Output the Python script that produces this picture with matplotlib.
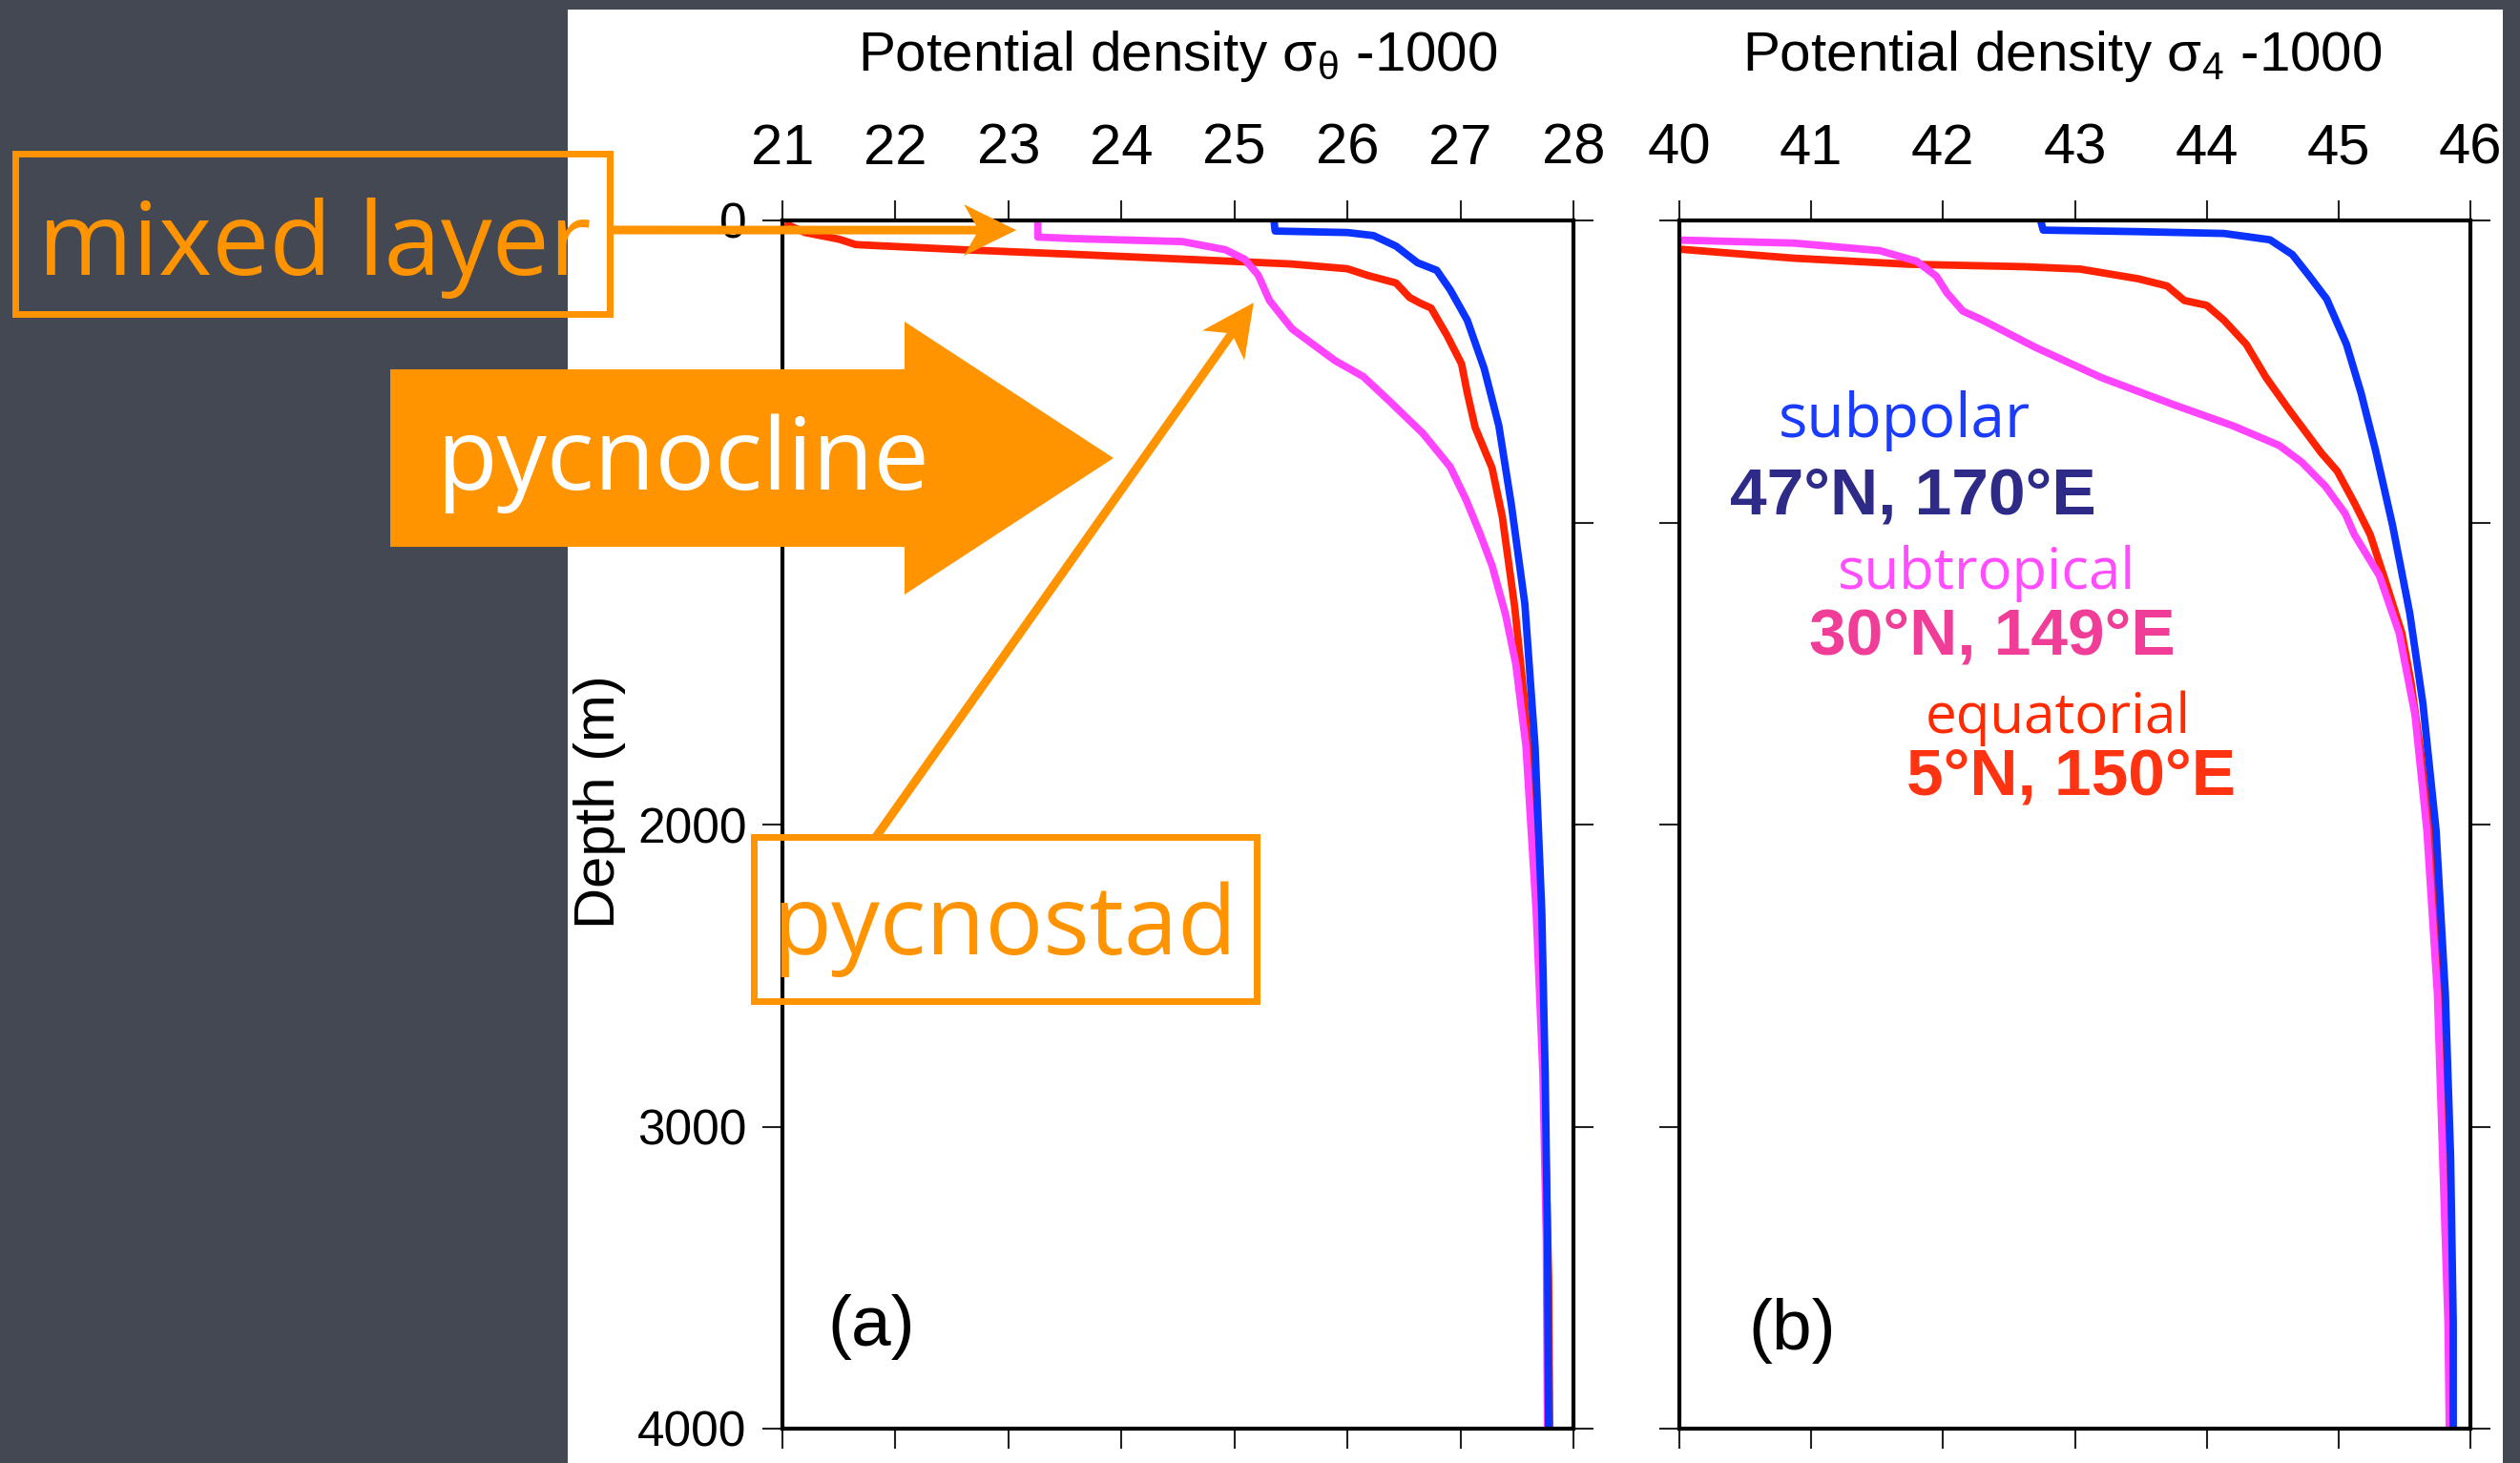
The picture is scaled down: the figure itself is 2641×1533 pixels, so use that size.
import matplotlib
matplotlib.use('Agg')
import matplotlib.pyplot as plt
from matplotlib.patches import Rectangle, Polygon
from matplotlib import font_manager
import numpy as np

# ---- profiles: depth (m) against potential density anomaly ----
# (a) sigma-theta
subpolar_depth_a = [0, 35, 40, 50, 85, 140, 165, 230, 330, 490, 680, 940, 1270, 1740, 2290, 2830, 3370, 4000]
subpolar_sig_a = [25.35, 25.36, 26.0, 26.23, 26.43, 26.62, 26.79, 26.91, 27.06, 27.21, 27.34, 27.45,
                  27.57, 27.66, 27.72, 27.75, 27.77, 27.78]

equatorial_depth_a = [10, 40, 62, 80, 97, 112, 128, 144, 160, 182, 207, 255, 275, 290, 380, 475, 570,
                      685, 820, 980, 1280, 1600, 2000, 2500, 3000, 3500, 4000]
equatorial_sig_a = [21.02, 21.2, 21.5, 21.65, 22.6, 23.57, 24.54, 25.5, 26.0, 26.18, 26.43, 26.55, 26.65,
                    26.74, 26.88, 27.01, 27.06, 27.13, 27.28, 27.37, 27.48, 27.57, 27.65, 27.71, 27.75,
                    27.78, 27.79]

subtropical_depth_a = [0, 55, 60, 70, 97, 128, 181, 265, 359, 464, 517, 601, 706, 816, 925, 1034, 1143,
                       1306, 1469, 1741, 2286, 2830, 3374, 4000]
subtropical_sig_a = [23.26, 23.26, 23.57, 24.54, 24.92, 25.09, 25.21, 25.31, 25.51, 25.89, 26.14, 26.38,
                     26.67, 26.91, 27.05, 27.17, 27.28, 27.40, 27.49, 27.58, 27.67, 27.73, 27.76, 27.77]

# (b) sigma-4
subpolar_depth_b = [0, 32, 37, 43, 64, 113, 185, 260, 410, 570, 760, 1010, 1300, 1600, 2020, 2560, 3100,
                    3650, 4000]
subpolar_sig_b = [42.74, 42.76, 43.48, 44.13, 44.48, 44.65, 44.78, 44.91, 45.06, 45.17, 45.28, 45.41,
                  45.54, 45.64, 45.74, 45.81, 45.85, 45.87, 45.87]

equatorial_depth_b = [95, 125, 145, 153, 161, 193, 217, 265, 281, 330, 410, 520, 630, 770, 830, 935, 1040,
                      1200, 1366, 1530, 1750, 2100, 2600, 3100, 3600, 4000]
equatorial_sig_b = [40.0, 40.87, 41.74, 42.61, 43.04, 43.48, 43.70, 43.83, 44.0, 44.13, 44.30, 44.45,
                    44.63, 44.87, 44.99, 45.12, 45.24, 45.36, 45.48, 45.55, 45.62, 45.71, 45.79, 45.83,
                    45.85, 45.86]

subtropical_depth_b = [65, 75, 100, 135, 185, 240, 300, 330, 420, 520, 610, 680, 745, 800, 880, 970, 1040,
                       1176, 1366, 1637, 2018, 2561, 3104, 3647, 4000]
subtropical_sig_b = [40.0, 40.87, 41.52, 41.8, 41.95, 42.03, 42.15, 42.3, 42.7, 43.2, 43.75, 44.2, 44.55,
                     44.72, 44.9, 45.05, 45.12, 45.31, 45.46, 45.58, 45.67, 45.75, 45.79, 45.83, 45.84]

depth_ticks = [0, 1000, 2000, 3000, 4000]
depth_labels = ['0', '', '2000', '3000', '4000']   # 1000 sits under the pycnocline arrow
sig_theta_ticks = [21, 22, 23, 24, 25, 26, 27, 28]
sig4_ticks = [40, 41, 42, 43, 44, 45, 46]

BLUE = '#0b33ff'
RED = '#ff2200'
MAGENTA = '#ff44ff'
ORANGE = '#ff9300'
BOARD = '#444852'

W, H = 2641, 1533

installed = {f.name for f in font_manager.fontManager.ttflist}
SANS = 'Liberation Sans' if 'Liberation Sans' in installed else 'DejaVu Sans'
HAND = 'Open Sans' if 'Open Sans' in installed else 'DejaVu Sans'

plt.rcParams['font.family'] = [SANS, 'DejaVu Sans']
plt.rcParams['mathtext.fontset'] = 'custom'
plt.rcParams['mathtext.rm'] = SANS
plt.rcParams['mathtext.it'] = SANS

fig = plt.figure(figsize=(W / 100, H / 100), dpi=100, facecolor=BOARD)
fig.add_artist(Rectangle((595 / W, 0), (2623 - 595) / W, 1 - 10 / H, transform=fig.transFigure,
                         facecolor='white', edgecolor='none', zorder=0))

ax_a = fig.add_axes([820 / W, 1 - 1497 / H, 829 / W, 1266 / H])
ax_b = fig.add_axes([1760 / W, 1 - 1497 / H, 829 / W, 1266 / H])


def style_axes(ax, xlim, xticks, ylabels):
    ax.set_xlim(*xlim)
    ax.set_ylim(4000, 0)
    ax.set_xticks(xticks)
    ax.set_yticks(depth_ticks)
    if ylabels:
        ax.set_yticklabels(depth_labels)
    for s in ax.spines.values():
        s.set_linewidth(3)
    ax.tick_params(axis='x', direction='out', length=15, width=1.5, color='#222222',
                   top=True, bottom=True, labeltop=True, labelbottom=False, labelsize=43, pad=19)
    ax.tick_params(axis='y', direction='out', length=15, width=1.5, color='#222222',
                   left=True, right=True, labelleft=ylabels, labelright=False, labelsize=37, pad=12)


style_axes(ax_a, (21, 28), sig_theta_ticks, True)
style_axes(ax_b, (40, 46), sig4_ticks, False)

lw = 5.6
for ax, prof in [(ax_a, [(equatorial_sig_a, equatorial_depth_a, RED),
                         (subtropical_sig_a, subtropical_depth_a, MAGENTA),
                         (subpolar_sig_a, subpolar_depth_a, BLUE)]),
                 (ax_b, [(equatorial_sig_b, equatorial_depth_b, RED),
                         (subtropical_sig_b, subtropical_depth_b, MAGENTA),
                         (subpolar_sig_b, subpolar_depth_b, BLUE)])]:
    for sig, dep, c in prof:
        ax.plot(sig, dep, color=c, lw=lw, solid_joinstyle='round', solid_capstyle='butt')

ax_a.text(0.5, 1.136, r'Potential density $\mathrm{\sigma_{\theta}}$ -1000', transform=ax_a.transAxes,
          ha='center', va='center', fontsize=42)
ax_b.text(0.484, 1.136, r'Potential density $\mathrm{\sigma_{4}}$ -1000', transform=ax_b.transAxes,
          ha='center', va='center', fontsize=42)
ax_a.text(-0.2316, 0.519, 'Depth (m)', rotation=90, transform=ax_a.transAxes,
          ha='center', va='center', fontsize=43)
ax_a.text(0.112, 0.084, '(a)', transform=ax_a.transAxes, ha='center', va='center', fontsize=54)
ax_b.text(0.142, 0.081, '(b)', transform=ax_b.transAxes, ha='center', va='center', fontsize=54)

# station labels in panel (b)
ax_b.text(41.71, 665, 'subpolar', color='#1a3cff', family=HAND, fontsize=46, ha='center', va='center')
ax_b.text(41.77, 915, '47°N, 170°E', color='#2d2a88', fontweight='bold', fontsize=50,
          ha='center', va='center')
ax_b.text(42.33, 1170, 'subtropical', color='#ff4dff', family=HAND, fontsize=43, ha='center', va='center')
ax_b.text(42.37, 1378, '30°N, 149°E', color='#f03d98', fontweight='bold', fontsize=50,
          ha='center', va='center')
ax_b.text(42.87, 1650, 'equatorial', color='#ff2a00', family=HAND, fontsize=42, ha='center', va='center')
ax_b.text(42.97, 1845, '5°N, 150°E', color='#ff3311', fontweight='bold', fontsize=50,
          ha='center', va='center')

# ---- orange call-outs, drawn on a full-figure overlay in pixel units ----
ov = fig.add_axes([0, 0, 1, 1], zorder=5)
ov.set_xlim(0, W)
ov.set_ylim(H, 0)
ov.axis('off')


def to_px(ax, x, y):
    X, Y = ax.transData.transform((x, y))
    return X, H - Y


def arrow(start, tip, width=6.5, head_len=55, head_half=27):
    start = np.asarray(start, float)
    tip = np.asarray(tip, float)
    d = tip - start
    u = d / np.hypot(*d)
    n = np.array([-u[1], u[0]])
    base = tip - u * head_len
    notch = tip - u * head_len * 0.72
    ov.plot([start[0], notch[0]], [start[1], notch[1]], color=ORANGE, lw=width, solid_capstyle='butt')
    ov.add_patch(Polygon([tip, base + n * head_half, notch, base - n * head_half], closed=True,
                         facecolor=ORANGE, edgecolor='none'))


# mixed layer
ov.add_patch(Rectangle((16, 161), 623, 168, fill=False, edgecolor=ORANGE, lw=5))
ov.text(330, 260, 'mixed layer', color=ORANGE, family=HAND, fontsize=77, ha='center', va='center')
arrow((639, 241), to_px(ax_a, 23.07, 32))

# pycnocline block arrow
ov.add_patch(Polygon([(409, 387), (948, 387), (948, 337), (1167, 480), (948, 623), (948, 573), (409, 573)],
                     closed=True, facecolor=ORANGE, edgecolor='none'))
ov.text(716, 486, 'pycnocline', color='white', family=HAND, fontsize=75, ha='center', va='center')

# pycnostad
ov.add_patch(Rectangle((790, 877), 527, 172, fill=False, edgecolor=ORANGE, lw=5))
ov.text(1053, 974, 'pycnostad', color=ORANGE, family=HAND, fontsize=73, ha='center', va='center')
arrow((918, 877), to_px(ax_a, 25.17, 272))

fig.savefig('out.png', dpi=100, facecolor=BOARD)
